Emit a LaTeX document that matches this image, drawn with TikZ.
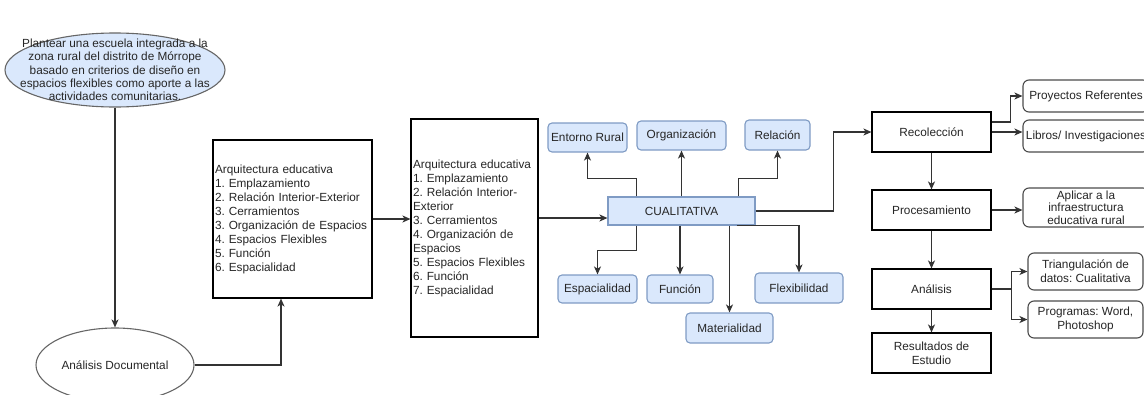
\documentclass[tikz,border=0pt]{standalone}
\usepackage{fontspec}
\setmainfont{Liberation Sans}
\usetikzlibrary{shapes.geometric,arrows.meta}
\frenchspacing

\definecolor{azulfondo}{HTML}{DAE8FC}
\definecolor{azulborde}{HTML}{7F9BC4}
\definecolor{linea}{HTML}{333333}

\tikzset{
  texto/.style={font=\fontsize{11.8}{14}\selectfont,text=black!85},
  caja/.style={texto,draw=black,line width=1.1pt,fill=white,inner sep=2pt,align=center},
  cajaazul/.style={texto,draw=azulborde,line width=1.1pt,fill=azulfondo,rounded corners=4pt,inner sep=2pt,align=center},
  cajagris/.style={texto,draw=black!70,line width=1.1pt,fill=white,rounded corners=6pt,inner sep=1pt,align=center},
  elipse/.style={ellipse,draw=black!60,line width=1.1pt,inner sep=0pt},
  flecha/.style={draw=linea,line width=1.2pt,-{Stealth[length=8pt,width=7pt,inset=2.2pt]}}
}

\begin{document}
\begin{tikzpicture}[x=1pt,y=-1pt]
    \useasboundingbox (0,0) rectangle (1144,394);
    \clip (0,0) rectangle (1144,394);

    \node[elipse,fill=azulfondo,minimum width=220pt,minimum height=74pt,
      label={[texto,align=center,font=\fontsize{11.8}{13.3}\selectfont]center:Plantear una escuela integrada a la\\zona rural del distrito de Mórrope\\basado en criterios de diseño en\\espacios flexibles como aporte a las\\actividades comunitarias.}](obj)at(115,70){};
    \node[elipse,fill=white,minimum width=158pt,minimum height=74pt,
      label={[texto]center:Análisis Documental}](ad)at(115,365){};

    \node[caja,text width=155pt,align=left,minimum height=158pt](arq1)at(292.5,219){Arquitectura educativa\\1. Emplazamiento\\2. Relación Interior-Exterior\\3. Cerramientos\\3. Organización de Espacios\\4. Espacios Flexibles\\5. Función\\6. Espacialidad};
    \node[caja,text width=123pt,align=left,minimum height=218pt](arq2)at(474.5,228){Arquitectura educativa\\1. Emplazamiento\\2. Relación Interior-\\Exterior\\3. Cerramientos\\4. Organización de\\Espacios\\5. Espacios Flexibles\\6. Función\\7. Espacialidad};

    \node[cajaazul,rounded corners=0pt,minimum width=147pt,minimum height=28pt](cual)at(681.5,211){CUALITATIVA};
    \node[cajaazul,minimum width=79pt,minimum height=29pt](ent)at(587.5,137.5){Entorno Rural};
    \node[cajaazul,minimum width=89pt,minimum height=29pt](org)at(681.5,135.5){Organización};
    \node[cajaazul,minimum width=65pt,minimum height=30pt](rel)at(777.5,135){Relación};
    \node[cajaazul,minimum width=79pt,minimum height=28pt](esp)at(597.5,289){Espacialidad};
    \node[cajaazul,minimum width=66pt,minimum height=28pt](fun)at(680,289){Función};
    \node[cajaazul,minimum width=87pt,minimum height=30pt](mat)at(729.5,328){Materialidad};
    \node[cajaazul,minimum width=88pt,minimum height=30pt](flex)at(799,288){Flexibilidad};

    \node[caja,minimum width=119pt,minimum height=40pt](rec)at(931.5,132){Recolección};
    \node[caja,minimum width=119pt,minimum height=40pt](proc)at(931.5,210){Procesamiento};
    \node[caja,minimum width=119pt,minimum height=40pt](anal)at(931.5,289){Análisis};
    \node[caja,minimum width=119pt,minimum height=40pt](res)at(931.5,353){Resultados de\\Estudio};

    \node[cajagris,minimum width=126pt,minimum height=32pt](proy)at(1086,96){Proyectos Referentes};
    \node[cajagris,minimum width=126pt,minimum height=32pt](lib)at(1086,136){Libros/ Investigaciones};
    \node[cajagris,minimum width=126pt,minimum height=39pt,font=\fontsize{11.8}{12.5}\selectfont](apl)at(1086,207.5){Aplicar a la\\infraestructura\\educativa rural};
    \node[cajagris,minimum width=115pt,minimum height=37pt](tri)at(1085.5,271.5){Triangulación de\\datos: Cualitativa};
    \node[cajagris,minimum width=115pt,minimum height=37pt](prog)at(1085.5,319.5){Programas: Word,\\Photoshop};

    \coordinate (cin) at ([yshift=-7pt]cual.west);

    \draw[flecha] (obj.south) -- (ad.north);
    \draw[flecha] (ad.east) -| ([xshift=-11.5pt]arq1.south);
    \draw[flecha] (arq1.east) -- (arq1.east -| arq2.west);
    \draw[flecha] (cin -| arq2.east) -- (cin);

    \draw[flecha] ([xshift=29pt]cual.north west) -- ++(0,-18) -| (ent.south);
    \draw[flecha] (cual.north) -- (org.south);
    \draw[flecha] ([xshift=-17pt]cual.north east) -- ++(0,-18) -| (rel.south);
    \draw[flecha] ([xshift=29pt]cual.south west) -- ++(0,25) -| (esp.north);
    \draw[flecha] (fun.north |- cual.south) -- (fun.north);
    \draw[flecha] (mat.north |- cual.south) -- (mat.north);
    \draw[flecha] ([xshift=-19pt]cual.south east) -| (flex.north);
    \draw[flecha] (cual.east) -- ++(78,0) |- (rec.west);

    \draw[flecha] ([yshift=10pt]rec.east) -- ++(19,0) |- (proy.west);
    \draw[flecha] (rec.east) -- (rec.east -| lib.west);
    \draw[flecha] (rec.south) -- (proc.north);
    \draw[flecha] (proc.east) -- (proc.east -| apl.west);
    \draw[flecha] (proc.south) -- (anal.north);
    \draw[flecha] (anal.east) -- ++(20,0) |- (tri.west);
    \draw[flecha] (anal.east) -- ++(20,0) |- (prog.west);
    \draw[flecha] (anal.south) -- (res.north);
  \end{tikzpicture}
\end{document}
